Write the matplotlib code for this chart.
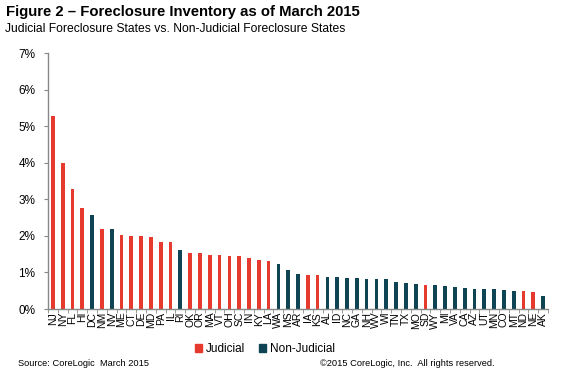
import matplotlib
matplotlib.use("Agg")
import matplotlib.pyplot as plt
import numpy as np

plt.rcParams['font.family'] = ['Liberation Sans', 'DejaVu Sans']

states = ["NJ","NY","FL","HI","DC","NM","NV","ME","CT","DE","MD","PA","IL","RI","OK","OR","MA","VT","OH","SC",
          "IN","KY","LA","WA","MS","AR","IA","KS","AL","ID","NC","GA","NH","WV","WI","TN","TX","MO","SD","WY",
          "MI","VA","CA","AZ","UT","MN","CO","MT","ND","NE","AK"]
values = [5.27,3.98,3.27,2.75,2.57,2.18,2.19,2.03,1.99,1.99,1.96,1.83,1.83,1.62,1.53,1.53,1.47,1.47,1.44,1.44,
          1.40,1.35,1.31,1.22,1.08,0.96,0.94,0.92,0.87,0.87,0.85,0.85,0.83,0.81,0.81,0.74,0.71,0.67,0.65,0.65,
          0.63,0.60,0.57,0.55,0.54,0.54,0.51,0.49,0.49,0.46,0.35]
judicial = ["NJ","NY","FL","HI","NM","ME","CT","DE","MD","PA","IL","OK","OR","MA","VT","OH","SC",
            "IN","KY","LA","IA","KS","SD","ND","NE"]
yticks = [0,1,2,3,4,5,6,7]

RED = '#E63A2F'
DARK = '#0E4453'

fig = plt.figure(figsize=(5.62, 3.79), dpi=100)
ax = fig.add_axes([48/562, 1-309/379, 500/562, 256/379])

x = np.arange(len(states))
colors = [RED if s in judicial else DARK for s in states]
ax.bar(x, values, width=0.38, color=colors, zorder=2)

ax.set_xlim(-0.5, len(states)-0.5)
ax.set_ylim(0, 7)
ax.set_yticks(yticks)
ax.set_yticklabels([f"{t}%" for t in yticks], fontsize=8.5)
ax.set_xticks(x)
ax.set_xticklabels(states, rotation=90, fontsize=7.5)
ax.tick_params(axis='x', length=0, pad=2)
ax.set_xticks(np.arange(-0.5, len(states), 1), minor=True)
ax.tick_params(axis='x', which='minor', length=3, color='#888888', direction='out')
ax.tick_params(axis='y', length=3, color='#888888', direction='out', pad=6)

for s in ['top', 'right']:
    ax.spines[s].set_visible(False)
for s in ['left', 'bottom']:
    ax.spines[s].set_color('#888888')
    ax.spines[s].set_linewidth(1.0)

fig.text(6/562, 1-12/379, "Figure 2 \u2013 Foreclosure Inventory as of March 2015", fontsize=10.7,
         fontweight='bold', va='center', ha='left')
fig.text(5/562, 1-29/379, "Judicial Foreclosure States vs. Non-Judicial Foreclosure States", fontsize=8.7,
         va='center', ha='left')

from matplotlib.patches import Patch
handles = [Patch(color=RED, label='Judicial'), Patch(color=DARK, label='Non-Judicial')]
fig.legend(handles=handles, loc='center', bbox_to_anchor=(265/562, 1-349/379), ncol=2, frameon=False,
           fontsize=8.5, handlelength=0.6, handleheight=0.6, handletextpad=0.3, columnspacing=1.2)

fig.text(18/562, 1-364/379, "Source: CoreLogic  March 2015", fontsize=6.7, va='center', ha='left')
fig.text(495/562, 1-364/379, "\u00a92015 CoreLogic, Inc.  All rights reserved.", fontsize=6.7, va='center', ha='right')

fig.savefig("out.png", dpi=100)
